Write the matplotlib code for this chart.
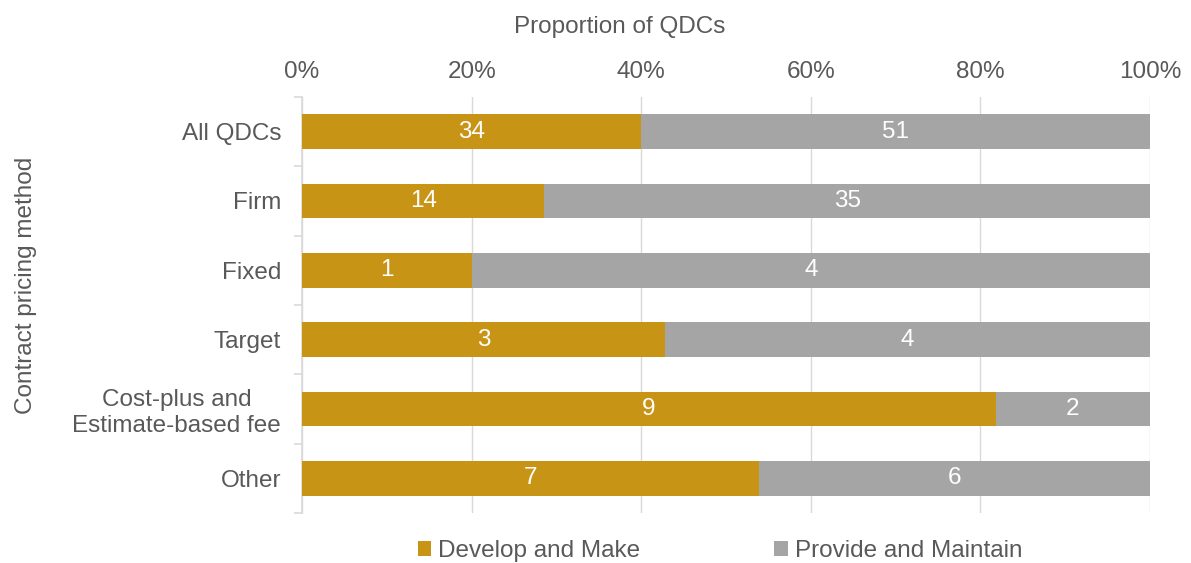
import numpy as np
import matplotlib.pyplot as plt
from matplotlib.ticker import PercentFormatter

plt.rcParams['font.family'] = ['Liberation Sans', 'DejaVu Sans']

categories = ['All QDCs', 'Firm', 'Fixed', 'Target', 'Cost-plus and\nEstimate-based fee', 'Other']
develop = np.array([34, 14, 1, 3, 9, 7])
provide = np.array([51, 35, 4, 4, 2, 6])

gold = '#C89416'
grey = '#A5A5A5'
txt = '#595959'
fs = 17.5

total = develop + provide
p_dev = develop / total * 100
p_pro = provide / total * 100

fig = plt.figure(figsize=(11.91, 5.63), dpi=100)
ax = fig.add_axes([0.2536, 0.0888, 0.712, 0.739])

y = np.arange(len(categories))
ax.barh(y, p_dev, height=0.5, color=gold, label='Develop and Make', zorder=3)
ax.barh(y, p_pro, left=p_dev, height=0.5, color=grey, label='Provide and Maintain', zorder=3)

for i in range(len(categories)):
    ax.text(p_dev[i] / 2, y[i], str(develop[i]), color='white', fontsize=fs,
            ha='center', va='center', zorder=4)
    ax.text(p_dev[i] + p_pro[i] / 2, y[i], str(provide[i]), color='white', fontsize=fs,
            ha='center', va='center', zorder=4)

ax.set_xlim(0, 100)
ax.set_ylim(len(categories) - 0.5, -0.5)
ax.xaxis.set_major_formatter(PercentFormatter(decimals=0))
ax.set_xticks(np.arange(0, 101, 20))
ax.xaxis.tick_top()
ax.xaxis.set_label_position('top')
ax.set_xlabel('Proportion of QDCs', fontsize=fs, color=txt)
ax.set_ylabel('Contract pricing method', fontsize=fs, color=txt)
ax.xaxis.set_label_coords(0.375, 1.154)
ax.yaxis.set_label_coords(-0.312, 0.548)

ax.set_yticks(y)
ax.set_yticklabels(categories)
ax.set_yticks(np.arange(-0.5, len(categories)), minor=True)
ax.tick_params(axis='y', which='major', length=0, pad=15, labelsize=fs, labelcolor=txt)
ax.tick_params(axis='y', which='minor', length=6, color='#D9D9D9', width=1.2)
ax.tick_params(axis='x', length=0, labelsize=fs, labelcolor=txt, pad=10)
for lbl in ax.get_yticklabels():
    lbl.set_multialignment('center')

ax.grid(axis='x', color='#D9D9D9', linewidth=1, zorder=0)
for s in ['top', 'right', 'bottom']:
    ax.spines[s].set_visible(False)
ax.spines['left'].set_color('#D9D9D9')
ax.spines['left'].set_linewidth(1.2)

leg = ax.legend(loc='upper center', bbox_to_anchor=(0.493, -0.013), ncol=2, frameon=False,
                fontsize=fs, handlelength=0.55, handleheight=0.55, handletextpad=0.3,
                columnspacing=5.5)
for t in leg.get_texts():
    t.set_color(txt)

fig.savefig('out.png', dpi=100)
